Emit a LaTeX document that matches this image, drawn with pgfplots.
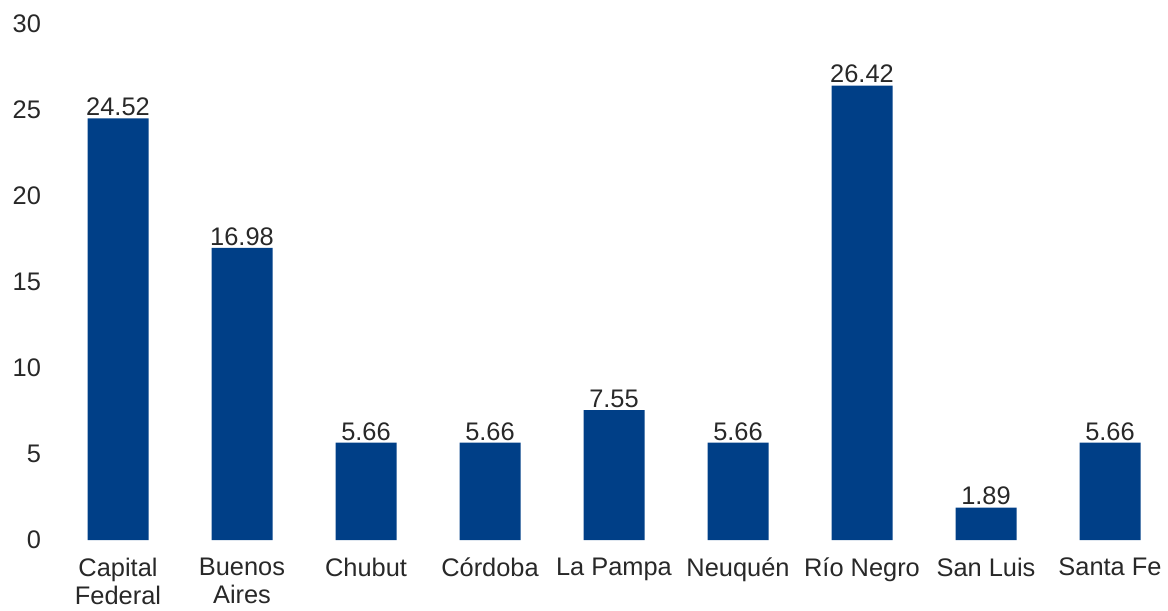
\documentclass[border=0pt]{standalone}
\usepackage{pgfplots}
\pgfplotsset{compat=1.18}
\usepackage{fontspec}
\setmainfont{Liberation Sans}
\definecolor{barblue}{RGB}{0,63,135}
\definecolor{txt}{RGB}{40,40,40}
\begin{document}
\begin{tikzpicture}
\begin{axis}[
  scale only axis,
  width=558pt, height=258pt,
  xmin=-0.5, xmax=8.5, ymin=0, ymax=30,
  ytick={0,5,10,15,20,25,30},
  xtick=data,
  xticklabels={{Capital\\Federal},{Buenos\\Aires},Chubut,Córdoba,La Pampa,Neuquén,Río Negro,San Luis,Santa Fe},
  xticklabel style={align=center, font=\fontsize{12.7}{14}\selectfont, text=txt, yshift=-5.5pt},
  yticklabel style={font=\fontsize{12.7}{12.5}\selectfont, text=txt, xshift=-4pt},
  /pgf/number format/assume math mode=true,
  axis line style={draw=none},
  tick style={draw=none},
  major tick length=0pt,
  ybar, bar width=30.5pt,
  nodes near coords,
  nodes near coords style={font=\fontsize{12.7}{12.5}\selectfont, text=txt, inner sep=1pt, /pgf/number format/.cd, fixed, fixed zerofill, precision=2},
  clip=false,
]
\addplot[fill=barblue, draw=none] coordinates {
  (0,24.52) (1,16.98) (2,5.66) (3,5.66) (4,7.55) (5,5.66) (6,26.42) (7,1.89) (8,5.66)
};
\end{axis}
\pgfresetboundingbox
\path ([xshift=-28pt,yshift=-35pt]current axis.south west) rectangle ([xshift=-2pt,yshift=12pt]current axis.north east);
\end{tikzpicture}
\end{document}
